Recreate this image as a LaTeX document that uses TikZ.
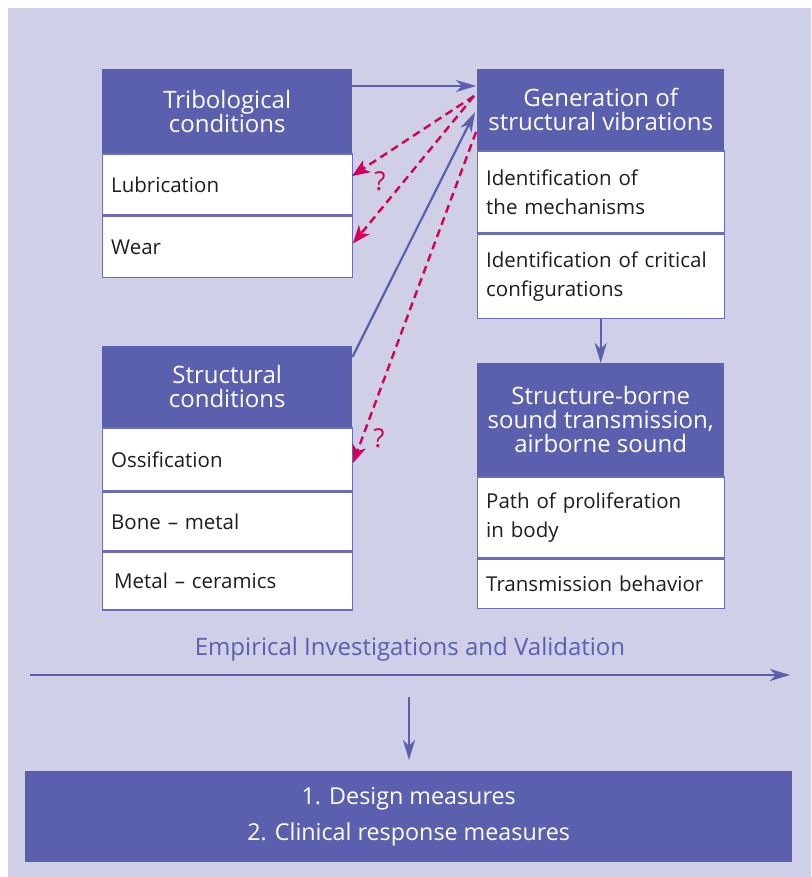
\documentclass[tikz,border=0pt]{standalone}
\usepackage{fontspec}
\setmainfont{Open Sans}
\usetikzlibrary{arrows.meta,calc}
\definecolor{bgl}{HTML}{CFCFE7}
\definecolor{hblue}{HTML}{5A5FAE}
\definecolor{bline}{HTML}{6A6EB8}
\definecolor{mag}{HTML}{D2005A}
\definecolor{txt}{HTML}{1E1E1E}
\begin{document}
\begin{tikzpicture}[x=1pt,y=-1pt,
  hdr/.style={rectangle, fill=hblue, text=white, inner sep=0pt, align=center, font=\fontsize{24}{24}\selectfont},
  rowbox/.style={rectangle, draw=bline, line width=1.4pt, fill=white, text=txt, inner xsep=9pt, inner ysep=0pt, align=left, font=\fontsize{20.5}{28.5}\selectfont},
  barrow/.style={draw=hblue, line width=2.2pt, -{Stealth[length=20pt,width=12pt,inset=6pt]}},
  marrow/.style={draw=mag, line width=2.4pt, dash pattern=on 8pt off 5pt, -{Stealth[length=18pt,width=14pt,inset=5pt]}},
  qmark/.style={text=mag, font=\fontsize{26}{26}\selectfont, inner sep=0pt}]
\useasboundingbox (0,0) rectangle (811,877);
\fill[bgl] (8,8) rectangle (811,877);
% Tribological
\node[hdr, minimum width=250pt, minimum height=84pt, anchor=north west] (trib) at (102,69) {Tribological\\conditions};
\node[rowbox, text width=232pt, minimum height=61pt, anchor=north] (lub) at (trib.south) {Lubrication};
\node[rowbox, text width=232pt, minimum height=61pt, anchor=north] (wear) at (lub.south) {Wear};
% Generation
\node[hdr, minimum width=247pt, minimum height=81pt, anchor=north west] (gen) at (477,69) {Generation of\\structural vibrations};
\node[rowbox, text width=229pt, minimum height=82pt, anchor=north] (mech) at (gen.south) {Identification of\\the mechanisms};
\node[rowbox, text width=229pt, minimum height=84pt, anchor=north] (crit) at (mech.south) {Identification of critical\\configurations};
% Structural
\node[hdr, minimum width=250pt, minimum height=81pt, anchor=north west] (struct) at (102,346) {Structural\\conditions};
\node[rowbox, text width=232pt, minimum height=63pt, anchor=north] (ossi) at (struct.south) {Ossification};
\node[rowbox, text width=232pt, minimum height=58pt, anchor=north] (bone) at (ossi.south) {Bone -- metal};
\node[rowbox, text width=232pt, minimum height=58pt, anchor=north] (cera) at (bone.south) {\hspace{3pt}Metal -- ceramics};
% Structure-borne
\node[hdr, minimum width=247pt, minimum height=113pt, anchor=north west] (sb) at (477,363) {Structure-borne\\sound transmission,\\airborne sound};
\node[rowbox, text width=229pt, minimum height=81pt, anchor=north] (path) at (sb.south) {Path of proliferation\\in body};
\node[rowbox, text width=229pt, minimum height=49pt, anchor=north] (trans) at (path.south) {Transmission behavior};
% Bottom
\node[hdr, minimum width=767pt, minimum height=91pt, anchor=north west, font=\fontsize{23.3}{36}\selectfont] (meas) at (25,771) {1. Design measures\\2. Clinical response measures};
\node[text=hblue, font=\fontsize{24}{24}\selectfont, inner sep=0pt] (emp) at (410,649) {Empirical Investigations and Validation};
% connectors
\coordinate (ea) at (30,675);
\coordinate (eb) at (790,675);
\coordinate (da) at (409,697);
\coordinate (fan) at (474,96);
\coordinate (fan2) at (476,132);
\draw[barrow] ([yshift=-17pt]trib.north east) -- ([yshift=-17pt,xshift=-1pt]gen.north west);
\draw[marrow] (fan) -- ([yshift=8.5pt,xshift=-1pt]lub.east);
\draw[marrow] (fan) -- ([yshift=3.5pt]wear.east);
\draw[marrow] (fan2) -- ([yshift=-3.5pt]ossi.east);
\draw[barrow] ([yshift=-11pt]struct.north east) -- ([yshift=-2.5pt,xshift=-2pt]gen.west);
\draw[barrow] (crit.south) -- (sb.north);
\draw[barrow] (ea) -- (eb);
\draw[barrow, shorten >=11pt] (da) -- (da |- meas.north);
\node[qmark] (q1) at (380,181) {?};
\node[qmark] (q2) at (379,438) {?};
\end{tikzpicture}
\end{document}
